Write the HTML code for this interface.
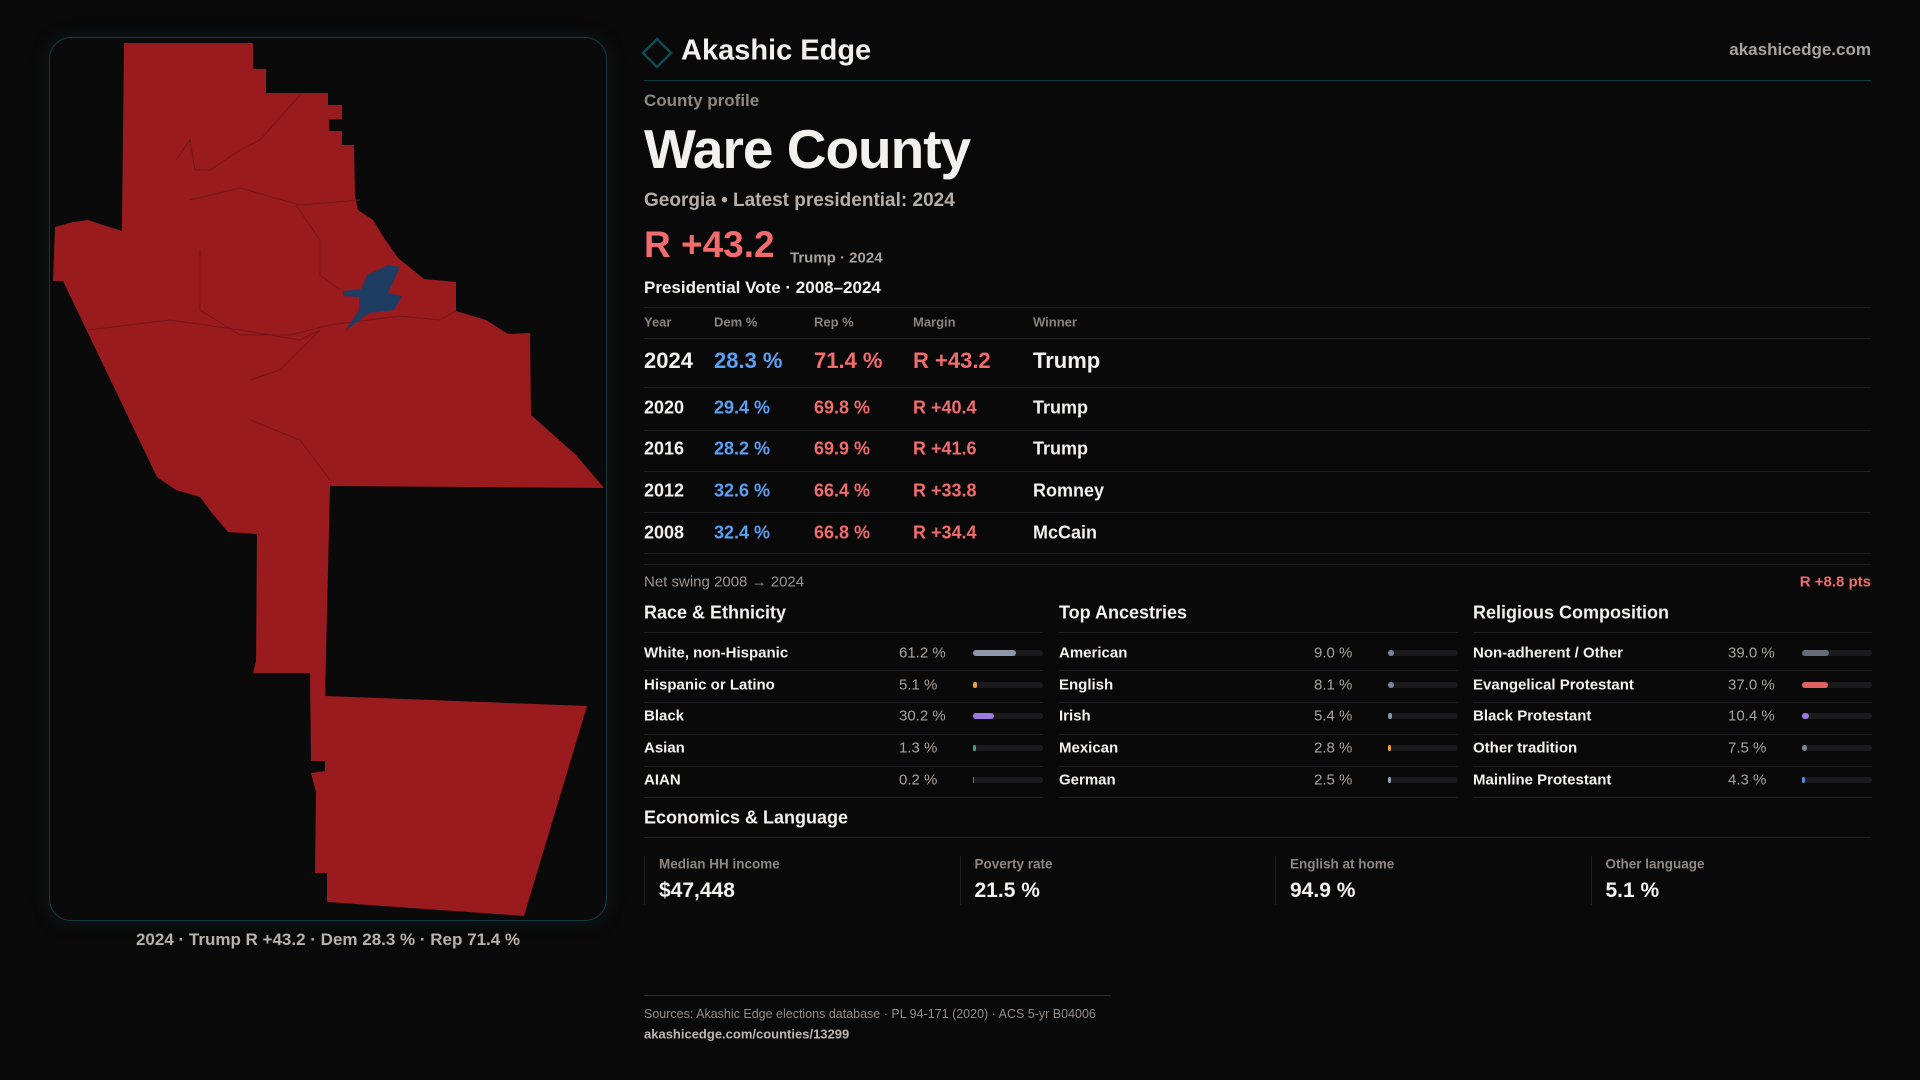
<!DOCTYPE html>
<html><head><meta charset="utf-8">
<style>
*{margin:0;padding:0;box-sizing:border-box}
body{width:1920px;height:1080px;background:#0a0909;font-family:"Liberation Sans",sans-serif;color:#f3f1ee;position:relative;overflow:hidden}
.a{position:absolute;white-space:nowrap}
.panel{position:absolute;left:49px;top:37px;width:558px;height:884px;border:1px solid #143a40;border-radius:22px;background:#0b0a0a;box-shadow:0 0 18px rgba(20,80,90,0.25)}
.hl{position:absolute;height:1px;background:#1f1f22}
.mid{transform:translateY(-50%)}
.track{position:absolute;height:6px;border-radius:3px;background:#1b1b1e;width:70px}
.fill{position:absolute;left:0;top:0;height:6px;border-radius:3px}
</style></head><body>
<div class="panel"></div>
<svg class="a" style="left:0;top:0" width="640" height="960">
<polygon fill="#991b1e" points="124,43 253,43 253,69 266,69 266,93 328,93 328,105 342,105 342,119 329,119 329,131 342,131 342,145 354,145 355,196 358,210 373,220 384,238 398,258 424,279 456,282 456,311 486,320 508,334 530,333 531,415 576,455 604,488 330,486 325,696 587,706 524,916 327,902 327,873 315,873 316,792 311,773 325,771 325,761 311,761 310,673 253,673 256,661 257,534 228,532 212,513 200,497 176,490 157,477 63,281 53,281 55,227 73,222 88,220 106,226 122,231 122,224"/>
<g fill="none" stroke="#7a1518" stroke-width="1">
<polyline points="88,330 170,320 240,330 300,340 320,330"/>
<polyline points="176,160 190,140 195,170 210,170 240,150 260,140 300,95"/>
<polyline points="190,200 240,188 300,205 360,200"/>
<polyline points="200,250 200,310 240,335 290,335 330,325 400,316 440,320 456,311"/>
<polyline points="250,380 280,370 320,330"/>
<polyline points="250,420 300,440 330,480"/>
<polyline points="296,205 320,240 320,275 340,290"/>
</g>
<polygon fill="#1f3d63" points="367,275 388,265 400,267 388,293 402,296 394,310 369,313 345,331 359,310 359,297 343,296 343,291 361,289"/>
</svg>
<div class="a" style="left:0;width:656px;text-align:center;top:930px;font-size:17px;font-weight:bold;color:#b8b1ab">2024 · Trump R +43.2 · Dem 28.3 % · Rep 71.4 %</div>

<svg class="a" style="left:641px;top:37px" width="32" height="32"><polygon points="16,2 30,16 16,30 2,16" fill="none" stroke="#0f4a52" stroke-width="2.5"/></svg>
<div class="a mid" style="left:681px;top:51px;font-size:29px;font-weight:bold">Akashic Edge</div>
<div class="a mid" style="right:49px;top:50px;font-size:17px;font-weight:bold;color:#a9a29c">akashicedge.com</div>
<div class="hl" style="left:644px;width:1227px;top:80px;background:#113a42"></div>
<div class="a mid" style="left:644px;top:101px;font-size:17px;font-weight:bold;color:#8e8782">County profile</div>
<div class="a mid" style="left:644px;top:149px;font-size:55px;font-weight:bold;letter-spacing:-1px">Ware County</div>
<div class="a mid" style="left:644px;top:201px;font-size:19px;font-weight:bold;color:#b5aea8">Georgia • Latest presidential: 2024</div>
<div class="a mid" style="left:644px;top:245px;font-size:37px;font-weight:bold;color:#f26b6d">R +43.2</div>
<div class="a mid" style="left:790px;top:258px;font-size:15px;font-weight:bold;color:#a9a29c">Trump · 2024</div>
<div class="a mid" style="left:644px;top:288px;font-size:17px;font-weight:bold">Presidential Vote · 2008–2024</div>
<div id="tbl"></div>
<div class="a mid" style="left:644px;top:582px;font-size:15px;color:#9a938e">Net swing 2008 → 2024</div>
<div class="a mid" style="right:49px;top:582px;font-size:15px;font-weight:bold;color:#f26b6d">R +8.8 pts</div>
<div id="demo"></div>
<div class="a mid" style="left:644px;top:818px;font-size:18px;font-weight:bold">Economics &amp; Language</div>
<div class="hl" style="left:644px;width:1227px;top:837px"></div>
<div id="econ"></div>
<div class="hl" style="left:644px;width:467px;top:995px;background:#113a42"></div>
<div class="a mid" style="left:644px;top:1014px;font-size:12.5px;color:#948d88">Sources: Akashic Edge elections database · PL 94-171 (2020) · ACS 5-yr B04006</div>
<div class="a mid" style="left:644px;top:1034px;font-size:13px;font-weight:bold;color:#bdb6b0">akashicedge.com/counties/13299</div>
<script>
const years=["2024","2020","2016","2012","2008"];
const dem=[28.3,29.4,28.2,32.6,32.4];
const rep=[71.4,69.8,69.9,66.4,66.8];
const margins=[43.2,40.4,41.6,33.8,34.4];
const winners=["Trump","Trump","Trump","Romney","McCain"];
const raceLabels=["White, non-Hispanic","Hispanic or Latino","Black","Asian","AIAN"];
const raceVals=[61.2,5.1,30.2,1.3,0.2];
const ancLabels=["American","English","Irish","Mexican","German"];
const ancVals=[9.0,8.1,5.4,2.8,2.5];
const relLabels=["Non-adherent / Other","Evangelical Protestant","Black Protestant","Other tradition","Mainline Protestant"];
const relVals=[39.0,37.0,10.4,7.5,4.3];
const econLabels=["Median HH income","Poverty rate","English at home","Other language"];
const econVals=["$47,448","21.5 %","94.9 %","5.1 %"];

function mk(parent,css,text){const d=document.createElement('div');d.className='a';d.style.cssText=css;if(text!==undefined)d.textContent=text;parent.appendChild(d);return d;}
const tbl=document.getElementById('tbl');
function line(p,l,w,t){const d=document.createElement('div');d.className='hl';d.style.cssText=`left:${l}px;width:${w}px;top:${t}px`;p.appendChild(d);return d;}
let ln=line(tbl,644,1227,307);
const cols=[644,714,814,913,1033];
["Year","Dem %","Rep %","Margin","Winner"].forEach((h,i)=>{const e=mk(tbl,`left:${cols[i]}px;top:322px;font-size:13px;font-weight:bold;color:#8a837e;transform:translateY(-50%)`,h);

});
ln=line(tbl,644,1227,338);
const rowY=[361,408,449,491,533];
const rowLine=[387,430,471,512,553];
years.forEach((y,i)=>{
 const fs=i==0?22:18;
 const base=`top:${rowY[i]}px;font-size:${fs}px;font-weight:bold;transform:translateY(-50%);`;
 const vals=[y,dem[i].toFixed(1)+' %',rep[i].toFixed(1)+' %','R +'+margins[i].toFixed(1),winners[i]];
 const colr=['#f3f1ee','#5aa0f5','#f26b6d','#f26b6d','#f3f1ee'];
 vals.forEach((v,j)=>{const e=mk(tbl,base+`left:${cols[j]}px;color:${colr[j]}`,v);
 
 });
 const l=line(tbl,644,1227,rowLine[i]);
 
 
});
ln=line(tbl,644,1227,564);

const demo=document.getElementById('demo');
const groups=[["Race & Ethnicity",raceLabels,raceVals,["#8d97aa","#e8a33a","#9b7be0","#3aa08a","#6b7080"]],
["Top Ancestries",ancLabels,ancVals,["#7c8596","#7c8596","#8a93a6","#e8a33a","#9aa3b6"]],
["Religious Composition",relLabels,relVals,["#666b78","#e06262","#9b7be0","#7c8596","#5a8ae0"]]];
const gx=[644,1059,1473];
const ry=[653,685,716,748,780];
const rl=[670,702,734,766,797];
groups.forEach((g,k)=>{
 const x=gx[k];
 const h=mk(demo,`left:${x}px;top:613px;font-size:18px;font-weight:bold;transform:translateY(-50%)`,g[0]);
 
 
 let l=line(demo,x,399,632);
 g[1].forEach((lab,i)=>{
  const a=mk(demo,`left:${x}px;top:${ry[i]}px;font-size:15px;font-weight:bold;transform:translateY(-50%)`,lab);
  
  
  const v=mk(demo,`left:${x+255}px;top:${ry[i]}px;font-size:15px;color:#a9a29c;transform:translateY(-50%)`,g[2][i].toFixed(1)+' %');
  
  
  const t=document.createElement('div');t.className='track';t.style.left=(x+329)+'px';t.style.top=(ry[i]-3)+'px';
  
  
  const f=document.createElement('div');f.className='fill';f.style.width=Math.max(g[2][i]/100*70,g[2][i]>=0.5?3:0)+'px';f.style.background=g[3][i];
  
  
  t.appendChild(f);demo.appendChild(t);
  l=line(demo,x,399,rl[i]);
 });
});
const econ=document.getElementById('econ');
econLabels.forEach((lab,i)=>{
 const x=644+i*315.5;
 const b=document.createElement('div');b.style.cssText=`position:absolute;left:${x}px;top:856px;width:1px;height:49px;background:#1f1f22`;
 
 
 econ.appendChild(b);
 const a=mk(econ,`left:${x+15}px;top:864px;font-size:13.5px;font-weight:bold;color:#8e8782;transform:translateY(-50%)`,lab);
 
 
 const v=mk(econ,`left:${x+15}px;top:891px;font-size:21px;font-weight:bold;transform:translateY(-50%)`,econVals[i]);
 
 
});
</script>
</body></html>
